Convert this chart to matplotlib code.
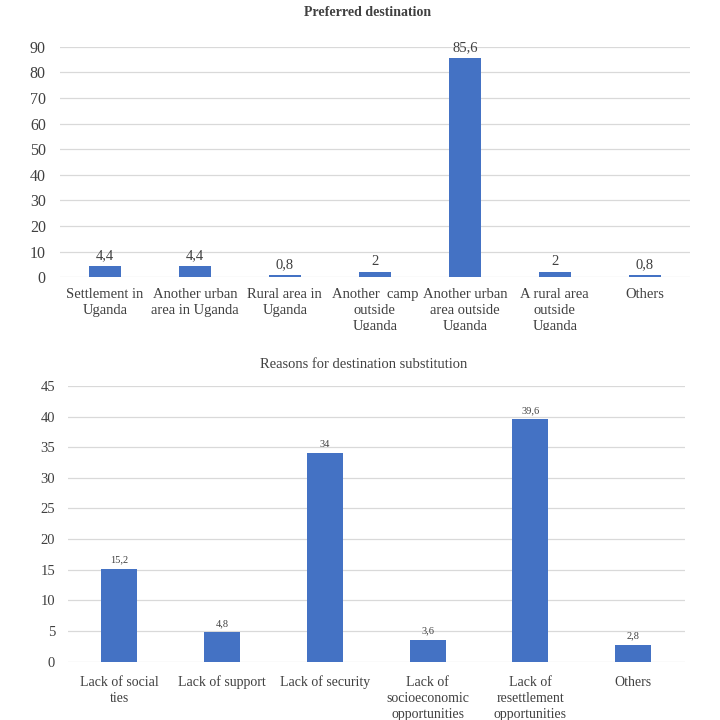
import matplotlib
matplotlib.use("Agg")
import matplotlib.pyplot as plt
from matplotlib.patches import Rectangle

plt.rcParams["font.family"] = ["Liberation Serif", "DejaVu Serif"]

dest_labels = [
    "Settlement in\nUganda",
    "Another urban\narea in Uganda",
    "Rural area in\nUganda",
    "Another  camp\noutside\nUganda",
    "Another urban\narea outside\nUganda",
    "A rural area\noutside\nUganda",
    "Others",
]
dest_values = [4.4, 4.4, 0.8, 2, 85.6, 2, 0.8]
dest_ticks = list(range(0, 91, 10))

reason_labels = [
    "Lack of social\nties",
    "Lack of support",
    "Lack of security",
    "Lack of\nsocioeconomic\nopportunities",
    "Lack of\nresettlement\nopportunities",
    "Others",
]
reason_values = [15.2, 4.8, 34, 3.6, 39.6, 2.8]
reason_ticks = list(range(0, 46, 5))

BAR = "#4472c4"
GRID = "#d9d9d9"
TXT = "#404040"


def fmt(v):
    return ("%g" % v).replace(".", ",")


def style(ax, ticks, fs, ypad):
    ax.set_ylim(ticks[0], ticks[-1])
    ax.set_yticks(ticks)
    ax.grid(axis="y", color=GRID, linewidth=0.9)
    ax.set_axisbelow(True)
    for s in ax.spines.values():
        s.set_visible(False)
    ax.tick_params(axis="both", length=0, colors=TXT)
    ax.tick_params(axis="y", labelsize=fs, pad=ypad)


fig = plt.figure(figsize=(7.2, 7.2), dpi=100)

# top chart
ax1 = fig.add_axes([0.083, 0.615, 0.875, 0.32])
x1 = range(len(dest_values))
bars = ax1.bar(x1, dest_values, width=0.36, color=BAR, zorder=3)
style(ax1, dest_ticks, 11.5, 10)
ax1.set_xlim(-0.5, len(dest_values) - 0.5)
ax1.set_xticks(list(x1))
ax1.set_xticklabels(dest_labels, fontsize=10.5, linespacing=1.3)
ax1.tick_params(axis="x", pad=8)
for b, v in zip(bars, dest_values):
    ax1.annotate(fmt(v), (b.get_x() + b.get_width() / 2, v), xytext=(0, 3),
                 textcoords="offset points", ha="center", va="bottom",
                 fontsize=10.5, color=TXT)
fig.text(0.51, 0.983, "Preferred destination", ha="center", va="center",
         fontsize=10, fontweight="bold", color=TXT)

# bottom chart
ax2 = fig.add_axes([0.094, 0.081, 0.857, 0.383])
x2 = range(len(reason_values))
bars = ax2.bar(x2, reason_values, width=0.35, color=BAR, zorder=3)
style(ax2, reason_ticks, 10.5, 9)
ax2.set_xlim(-0.5, len(reason_values) - 0.5)
ax2.set_xticks(list(x2))
ax2.set_xticklabels(reason_labels, fontsize=10, linespacing=1.3)
ax2.tick_params(axis="x", pad=10)
for b, v in zip(bars, reason_values):
    ax2.annotate(fmt(v), (b.get_x() + b.get_width() / 2, v), xytext=(0, 3),
                 textcoords="offset points", ha="center", va="bottom",
                 fontsize=7.5, color=TXT)
fig.text(0.505, 0.494, "Reasons for destination substitution", ha="center",
         va="center", fontsize=10.5, color=TXT)

# the source image crops the last line of the upper tick labels
fig.add_artist(Rectangle((0, 0.527), 1, 0.015, transform=fig.transFigure,
                         facecolor="white", edgecolor="none", zorder=10))

fig.savefig("out.png", dpi=100)
